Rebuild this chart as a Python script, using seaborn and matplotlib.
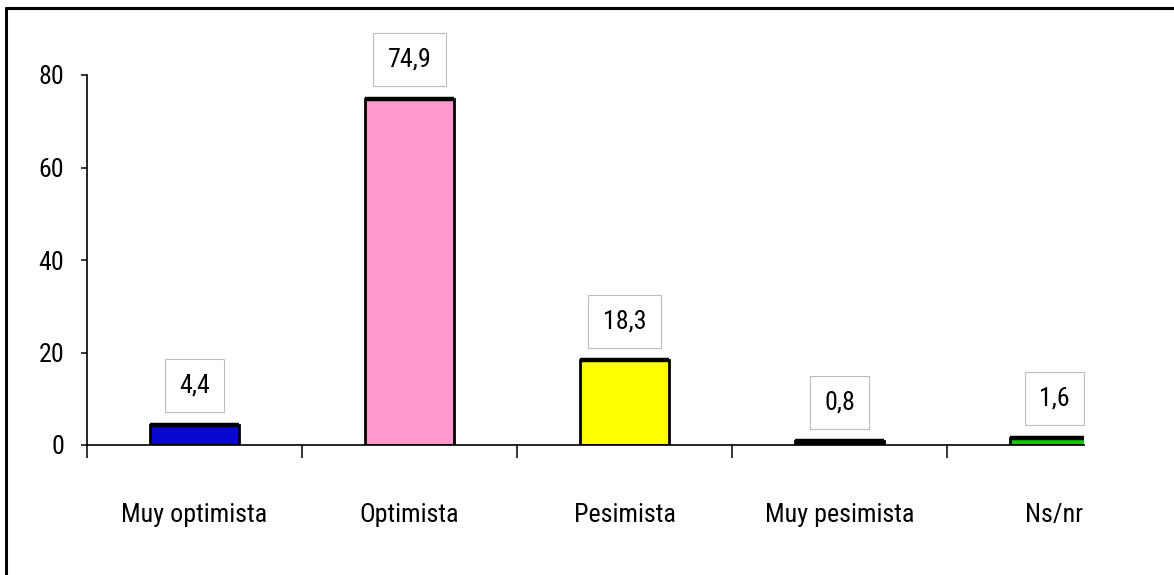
#!/usr/bin/env python3

import pandas as pd
import numpy as np
import matplotlib as mpl
import matplotlib.pyplot as plt
from matplotlib import font_manager
from matplotlib.lines import Line2D
import seaborn as sns

sns.set_style('white')

# the original uses a very condensed face; take a narrow family if there is one
installed = {fe.name for fe in font_manager.fontManager.ttflist}
narrow = [n for n in ['Liberation Sans Narrow', 'Roboto Condensed', 'Open Sans Condensed',
                      'DejaVu Sans Condensed'] if n in installed]
plt.rcParams['font.family'] = narrow[:1] + ['Liberation Sans', 'DejaVu Sans']
plt.rcParams['text.color'] = 'black'
plt.rcParams['xtick.color'] = 'black'
plt.rcParams['ytick.color'] = 'black'

categories = ['Muy optimista', 'Optimista', 'Pesimista', 'Muy pesimista', 'Ns/nr']
values = [4.4, 74.9, 18.3, 0.8, 1.6]
value_labels = ['4,4', '74,9', '18,3', '0,8', '1,6']
bar_colors = ['#0808d0', '#ff99cc', '#ffff00', '#000000', '#00cc00']
yticks = [0, 20, 40, 60, 80]

df = pd.DataFrame({'cat': categories, 'val': values})

f = plt.figure(figsize=(11.74, 5.75), dpi=100)
ax = f.add_axes([87/1174, 130/575, (1084-87)/1174, 370/575])

# pick a font size so 'Muy optimista' is roughly as wide as in the original
probe = f.text(0, 0, categories[0], fontsize=20)
w = probe.get_window_extent(renderer=f.canvas.get_renderer()).width
probe.remove()
fs = 20 * 146 / w

sns.barplot(data=df, x='cat', y='val', hue='cat', palette=bar_colors,
            legend=False, width=0.41, edgecolor='black', linewidth=2.0,
            saturation=1, ax=ax)

# heavier top edge, as in the original
for p in ax.patches:
    x0 = p.get_x()
    ax.plot([x0, x0 + p.get_width()], [p.get_height()] * 2, color='black',
            lw=3.2, solid_capstyle='butt')

ax.set_xlim(-0.5, 4.137)
ax.set_ylim(0, 80)
ax.set_yticks(yticks)
ax.set_xlabel('')
ax.set_ylabel('')

# value boxes over each bar
for i, (v, lab) in enumerate(zip(values, value_labels)):
    ax.annotate(lab, xy=(i, v), xytext=(0, 28), textcoords='offset points',
                ha='center', va='center', fontsize=fs, color='black',
                bbox=dict(boxstyle='square,pad=0.55', fc='white', ec='#bdbdbd', lw=0.8),
                annotation_clip=False, zorder=5)

sns.despine(ax=ax, top=True, right=True)
for s in ['left', 'bottom']:
    ax.spines[s].set_linewidth(1.2)
    ax.spines[s].set_color('black')

ax.tick_params(axis='y', which='major', direction='out', length=4.5, width=1.1,
               color='black', labelcolor='black', pad=12, labelsize=fs, left=True)
ax.set_xticks(range(len(categories)))
ax.set_xticklabels(categories)
ax.tick_params(axis='x', which='major', length=0, pad=42, labelsize=fs, labelcolor='black')
ax.set_xticks(np.arange(-0.5, 4.0, 1.0), minor=True)
ax.tick_params(axis='x', which='minor', direction='out', length=9, width=1.1,
               color='black', bottom=True)
for lbl in ax.get_xticklabels():
    lbl.set_clip_on(False)

# frame on left and top of the picture
f.add_artist(Line2D([6/1174, 6/1174], [0, 1 - 7.5/575], color='black', lw=2.2,
                    transform=f.transFigure))
f.add_artist(Line2D([6/1174, 1], [1 - 7.5/575, 1 - 7.5/575], color='black', lw=2.2,
                    transform=f.transFigure))

f.savefig('out.png', dpi=100, facecolor='white')
